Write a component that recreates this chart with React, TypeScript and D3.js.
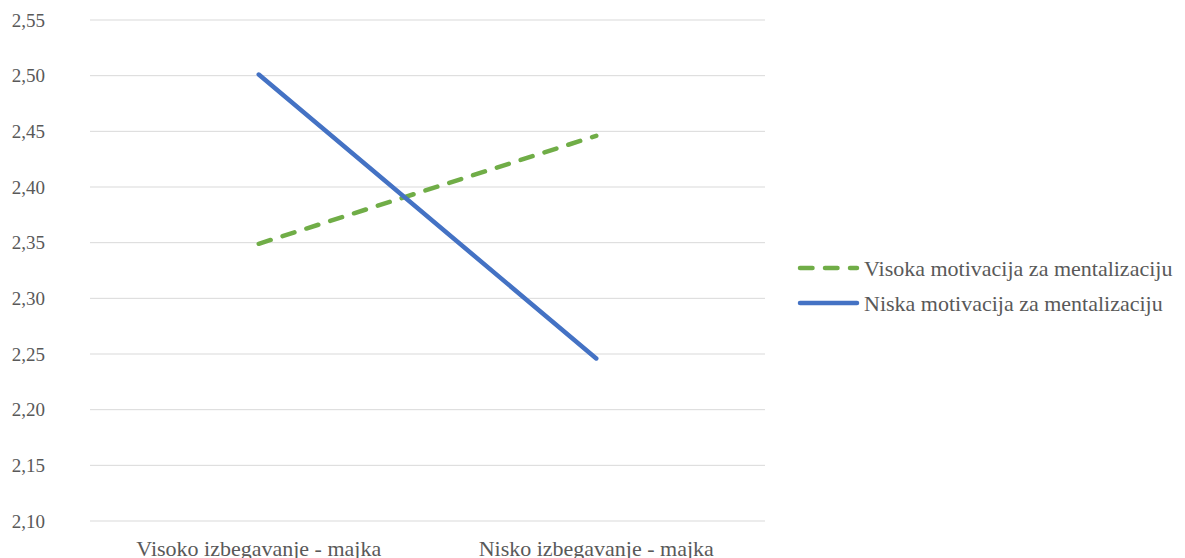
import React from "react";
import * as d3 from "d3";

const categories = ["Visoko izbegavanje - majka", "Nisko izbegavanje - majka"];
const highMotivation = [2.349, 2.446];
const lowMotivation = [2.501, 2.246];
const seriesNames = ["Visoka motivacija za mentalizaciju", "Niska motivacija za mentalizaciju"];
const yTicks = [2.1, 2.15, 2.2, 2.25, 2.3, 2.35, 2.4, 2.45, 2.5, 2.55];

const W = 1185;
const H = 558;
const left = 90;
const right = 765;
const top = 20;
const bottom = 521;
const FONT = "'Liberation Serif', 'Times New Roman', serif";
const TEXT = "#595959";

export default function App() {
  const x = d3.scaleBand<string>().domain(categories).range([left, right]);
  const y = d3.scaleLinear().domain([2.1, 2.55]).range([bottom, top]);
  const line = d3
    .line<number>()
    .x((_, i) => (x(categories[i]) as number) + x.bandwidth() / 2)
    .y((d) => y(d));
  const series = [
    { name: seriesNames[0], values: highMotivation, color: "#70ad47", dash: "12.5,12.5" },
    { name: seriesNames[1], values: lowMotivation, color: "#4472c4", dash: undefined },
  ];
  const ts = { fontFamily: FONT };
  return (
    <svg
      width={W}
      height={H}
      style={{ position: "absolute", left: 0, top: 0, background: "#fff" }}
    >
      {yTicks.map((t) => (
        <g key={t}>
          <line x1={left} x2={right} y1={y(t)} y2={y(t)} stroke="#d9d9d9" strokeWidth={1} />
          <text x={45} y={y(t)} dy="0.35em" textAnchor="end" fontSize={19} fill={TEXT} style={ts}>
            {d3.format(".2f")(t).replace(".", ",")}
          </text>
        </g>
      ))}
      {categories.map((c) => (
        <text
          key={c}
          x={(x(c) as number) + x.bandwidth() / 2}
          y={548}
          dy="0.35em"
          textAnchor="middle"
          fontSize={22}
          fill={TEXT}
          style={ts}
        >
          {c}
        </text>
      ))}
      {series.map((s) => (
        <path
          key={s.name}
          d={line(s.values) as string}
          fill="none"
          stroke={s.color}
          strokeWidth={4.5}
          strokeLinecap="round"
          strokeDasharray={s.dash}
        />
      ))}
      {series.map((s, i) => {
        const ly = 268 + i * 35;
        return (
          <g key={"leg" + s.name}>
            <line
              x1={800}
              x2={857}
              y1={ly}
              y2={ly}
              stroke={s.color}
              strokeWidth={4.5}
              strokeLinecap="round"
              strokeDasharray={s.dash}
            />
            <text x={864} y={ly} dy="0.35em" fontSize={22} fill={TEXT} style={ts}>
              {s.name}
            </text>
          </g>
        );
      })}
    </svg>
  );
}
